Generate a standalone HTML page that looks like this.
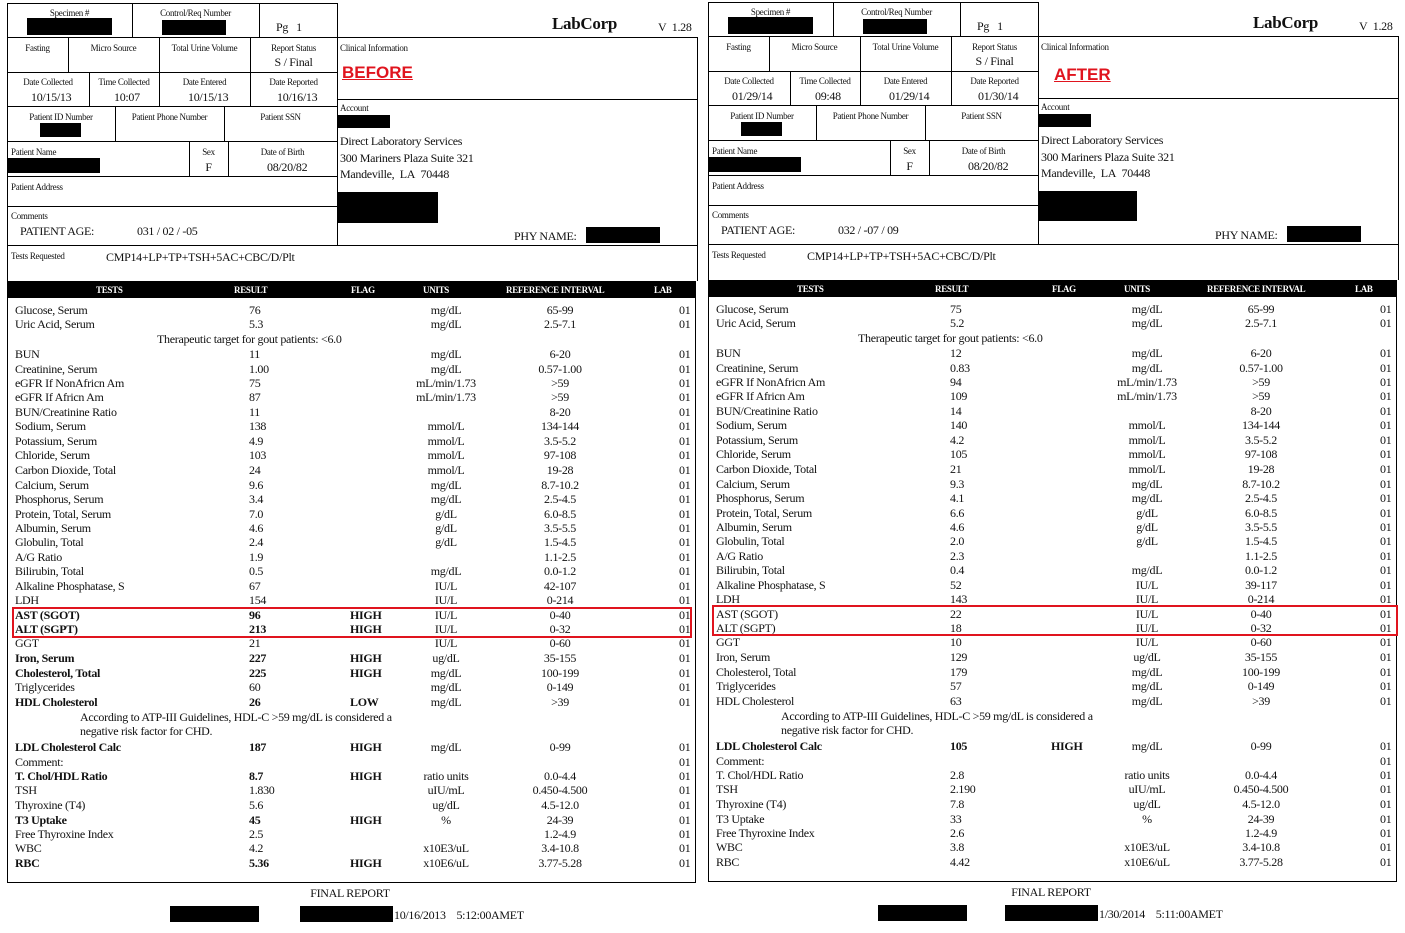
<!DOCTYPE html>
<html><head><meta charset="utf-8"><style>
*{margin:0;padding:0;box-sizing:border-box}
body{width:1405px;height:933px;background:#fff;position:relative;overflow:hidden;font-family:"Liberation Serif",serif;color:#111}
.p{position:absolute;top:0;left:0;width:702px;height:933px}
.h{position:absolute;height:1px;background:#000}
.v{position:absolute;width:1px;background:#000}
.k{position:absolute;background:#000}
.t{position:absolute;white-space:nowrap;font-size:12px;line-height:14px;letter-spacing:-0.3px}
.s{position:absolute;white-space:nowrap;font-size:9px;line-height:11px;letter-spacing:-0.3px}
.c{text-align:center}
.r{position:absolute;left:0;width:700px;height:14px;font-size:12px;line-height:14px;letter-spacing:-0.3px}
.r i{position:absolute;font-style:normal;white-space:nowrap;top:0}
.a{left:15px}.b{left:249px}.f{left:350px}.u{left:400px;width:92px;text-align:center}.g{left:505px;width:110px;text-align:center}.l{left:679px}
.B{font-weight:bold}
.bar{position:absolute;left:7px;top:281px;width:689px;height:17px;background:#000;color:#fff;font-size:9px;font-weight:bold;line-height:17px;letter-spacing:-0.3px}
.bar span{position:absolute;top:1px}
.red{position:absolute;border:2px solid #e0141e}
.big{position:absolute;font-family:"Liberation Sans",sans-serif;font-weight:bold;color:#e0141e;font-size:17px;text-decoration:underline;line-height:20px}
</style></head><body>

<!-- LEFT PANEL -->
<div class="p">
<div class="h" style="left:7px;top:3px;width:330px"></div>
<div class="h" style="left:7px;top:37px;width:691px"></div>
<div class="h" style="left:7px;top:72px;width:330px"></div>
<div class="h" style="left:337px;top:99px;width:361px"></div>
<div class="h" style="left:7px;top:106px;width:330px"></div>
<div class="h" style="left:7px;top:141px;width:330px"></div>
<div class="h" style="left:7px;top:176px;width:330px"></div>
<div class="h" style="left:7px;top:206px;width:330px"></div>
<div class="h" style="left:7px;top:245px;width:691px"></div>
<div class="h" style="left:7px;top:882px;width:689px"></div>
<div class="v" style="left:7px;top:3px;height:880px"></div>
<div class="v" style="left:337px;top:3px;height:242px"></div>
<div class="v" style="left:697px;top:37px;height:244px"></div>
<div class="v" style="left:695px;top:281px;height:602px"></div>
<div class="v" style="left:132px;top:3px;height:34px"></div>
<div class="v" style="left:259px;top:3px;height:34px"></div>
<div class="v" style="left:68px;top:37px;height:35px"></div>
<div class="v" style="left:159px;top:37px;height:35px"></div>
<div class="v" style="left:250px;top:37px;height:35px"></div>
<div class="v" style="left:89px;top:72px;height:34px"></div>
<div class="v" style="left:159px;top:72px;height:34px"></div>
<div class="v" style="left:250px;top:72px;height:34px"></div>
<div class="v" style="left:115px;top:106px;height:35px"></div>
<div class="v" style="left:224px;top:106px;height:35px"></div>
<div class="v" style="left:189px;top:141px;height:35px"></div>
<div class="v" style="left:228px;top:141px;height:35px"></div>

<div class="s c" style="left:7px;top:8px;width:125px">Specimen #</div>
<div class="k" style="left:27px;top:18px;width:85px;height:17px"></div>
<div class="s c" style="left:132px;top:8px;width:127px">Control/Req Number</div>
<div class="k" style="left:162px;top:20px;width:64px;height:15px"></div>
<div class="t" style="left:276px;top:20px">Pg&nbsp;&nbsp; 1</div>
<div class="t" style="left:552px;top:14px;font-size:17px;line-height:20px;font-weight:bold">LabCorp</div>
<div class="t" style="left:658px;top:20px">V&nbsp; 1.28</div>

<div class="s c" style="left:7px;top:43px;width:61px">Fasting</div>
<div class="s c" style="left:68px;top:43px;width:91px">Micro Source</div>
<div class="s c" style="left:159px;top:43px;width:91px">Total Urine Volume</div>
<div class="s c" style="left:250px;top:43px;width:87px">Report Status</div>
<div class="t c" style="left:250px;top:55px;width:87px">S / Final</div>
<div class="s" style="left:340px;top:43px">Clinical Information</div>
<div class="big" style="left:342px;top:63px">BEFORE</div>

<div class="s c" style="left:7px;top:77px;width:82px">Date Collected</div>
<div class="s c" style="left:89px;top:77px;width:70px">Time Collected</div>
<div class="s c" style="left:159px;top:77px;width:91px">Date Entered</div>
<div class="s c" style="left:250px;top:77px;width:87px">Date Reported</div>
<div class="t" style="left:31px;top:90px">10/15/13</div>
<div class="t" style="left:114px;top:90px">10:07</div>
<div class="t" style="left:188px;top:90px">10/15/13</div>
<div class="t" style="left:277px;top:90px">10/16/13</div>

<div class="s c" style="left:7px;top:112px;width:108px">Patient ID Number</div>
<div class="k" style="left:40px;top:123px;width:41px;height:14px"></div>
<div class="s c" style="left:115px;top:112px;width:109px">Patient Phone Number</div>
<div class="s c" style="left:224px;top:112px;width:113px">Patient SSN</div>
<div class="s" style="left:340px;top:103px">Account</div>
<div class="k" style="left:338px;top:115px;width:52px;height:13px"></div>
<div class="t" style="left:340px;top:134px">Direct Laboratory Services</div>
<div class="t" style="left:340px;top:151px">300 Mariners Plaza Suite 321</div>
<div class="t" style="left:340px;top:167px">Mandeville,&nbsp; LA&nbsp; 70448</div>
<div class="k" style="left:338px;top:192px;width:100px;height:31px"></div>

<div class="s" style="left:11px;top:147px">Patient Name</div>
<div class="k" style="left:7px;top:158px;width:93px;height:15px"></div>
<div class="s c" style="left:189px;top:147px;width:39px">Sex</div>
<div class="t c" style="left:189px;top:160px;width:39px">F</div>
<div class="s c" style="left:228px;top:147px;width:109px">Date of Birth</div>
<div class="t" style="left:267px;top:160px">08/20/82</div>
<div class="s" style="left:11px;top:182px">Patient Address</div>
<div class="s" style="left:11px;top:211px">Comments</div>
<div class="t" style="left:20px;top:224px">PATIENT AGE:</div>
<div class="t" style="left:137px;top:224px">031 / 02 / -05</div>
<div class="t" style="left:514px;top:229px">PHY NAME:</div>
<div class="k" style="left:586px;top:227px;width:74px;height:16px"></div>
<div class="s" style="left:11px;top:251px">Tests Requested</div>
<div class="t" style="left:106px;top:250px">CMP14+LP+TP+TSH+5AC+CBC/D/Plt</div>

<div class="bar"><span style="left:89px">TESTS</span><span style="left:227px">RESULT</span><span style="left:344px">FLAG</span><span style="left:416px">UNITS</span><span style="left:499px">REFERENCE INTERVAL</span><span style="left:647px">LAB</span></div>

<div class="r" style="top:303px"><i class="a">Glucose, Serum</i><i class="b">76</i><i class="u">mg/dL</i><i class="g">65-99</i><i class="l">01</i></div>
<div class="r" style="top:317px"><i class="a">Uric Acid, Serum</i><i class="b">5.3</i><i class="u">mg/dL</i><i class="g">2.5-7.1</i><i class="l">01</i></div>
<div class="r" style="top:332px"><i style="left:157px">Therapeutic target for gout patients: &lt;6.0</i></div>
<div class="r" style="top:347px"><i class="a">BUN</i><i class="b">11</i><i class="u">mg/dL</i><i class="g">6-20</i><i class="l">01</i></div>
<div class="r" style="top:362px"><i class="a">Creatinine, Serum</i><i class="b">1.00</i><i class="u">mg/dL</i><i class="g">0.57-1.00</i><i class="l">01</i></div>
<div class="r" style="top:376px"><i class="a">eGFR If NonAfricn Am</i><i class="b">75</i><i class="u">mL/min/1.73</i><i class="g">&gt;59</i><i class="l">01</i></div>
<div class="r" style="top:390px"><i class="a">eGFR If Africn Am</i><i class="b">87</i><i class="u">mL/min/1.73</i><i class="g">&gt;59</i><i class="l">01</i></div>
<div class="r" style="top:405px"><i class="a">BUN/Creatinine Ratio</i><i class="b">11</i><i class="g">8-20</i><i class="l">01</i></div>
<div class="r" style="top:419px"><i class="a">Sodium, Serum</i><i class="b">138</i><i class="u">mmol/L</i><i class="g">134-144</i><i class="l">01</i></div>
<div class="r" style="top:434px"><i class="a">Potassium, Serum</i><i class="b">4.9</i><i class="u">mmol/L</i><i class="g">3.5-5.2</i><i class="l">01</i></div>
<div class="r" style="top:448px"><i class="a">Chloride, Serum</i><i class="b">103</i><i class="u">mmol/L</i><i class="g">97-108</i><i class="l">01</i></div>
<div class="r" style="top:463px"><i class="a">Carbon Dioxide, Total</i><i class="b">24</i><i class="u">mmol/L</i><i class="g">19-28</i><i class="l">01</i></div>
<div class="r" style="top:478px"><i class="a">Calcium, Serum</i><i class="b">9.6</i><i class="u">mg/dL</i><i class="g">8.7-10.2</i><i class="l">01</i></div>
<div class="r" style="top:492px"><i class="a">Phosphorus, Serum</i><i class="b">3.4</i><i class="u">mg/dL</i><i class="g">2.5-4.5</i><i class="l">01</i></div>
<div class="r" style="top:507px"><i class="a">Protein, Total, Serum</i><i class="b">7.0</i><i class="u">g/dL</i><i class="g">6.0-8.5</i><i class="l">01</i></div>
<div class="r" style="top:521px"><i class="a">Albumin, Serum</i><i class="b">4.6</i><i class="u">g/dL</i><i class="g">3.5-5.5</i><i class="l">01</i></div>
<div class="r" style="top:535px"><i class="a">Globulin, Total</i><i class="b">2.4</i><i class="u">g/dL</i><i class="g">1.5-4.5</i><i class="l">01</i></div>
<div class="r" style="top:550px"><i class="a">A/G Ratio</i><i class="b">1.9</i><i class="g">1.1-2.5</i><i class="l">01</i></div>
<div class="r" style="top:564px"><i class="a">Bilirubin, Total</i><i class="b">0.5</i><i class="u">mg/dL</i><i class="g">0.0-1.2</i><i class="l">01</i></div>
<div class="r" style="top:579px"><i class="a">Alkaline Phosphatase, S</i><i class="b">67</i><i class="u">IU/L</i><i class="g">42-107</i><i class="l">01</i></div>
<div class="r" style="top:593px"><i class="a">LDH</i><i class="b">154</i><i class="u">IU/L</i><i class="g">0-214</i><i class="l">01</i></div>
<div class="r" style="top:608px"><i class="a B">AST (SGOT)</i><i class="b B">96</i><i class="f B">HIGH</i><i class="u">IU/L</i><i class="g">0-40</i><i class="l">01</i></div>
<div class="r" style="top:622px"><i class="a B">ALT (SGPT)</i><i class="b B">213</i><i class="f B">HIGH</i><i class="u">IU/L</i><i class="g">0-32</i><i class="l">01</i></div>
<div class="r" style="top:636px"><i class="a">GGT</i><i class="b">21</i><i class="u">IU/L</i><i class="g">0-60</i><i class="l">01</i></div>
<div class="r" style="top:651px"><i class="a B">Iron, Serum</i><i class="b B">227</i><i class="f B">HIGH</i><i class="u">ug/dL</i><i class="g">35-155</i><i class="l">01</i></div>
<div class="r" style="top:666px"><i class="a B">Cholesterol, Total</i><i class="b B">225</i><i class="f B">HIGH</i><i class="u">mg/dL</i><i class="g">100-199</i><i class="l">01</i></div>
<div class="r" style="top:680px"><i class="a">Triglycerides</i><i class="b">60</i><i class="u">mg/dL</i><i class="g">0-149</i><i class="l">01</i></div>
<div class="r" style="top:695px"><i class="a B">HDL Cholesterol</i><i class="b B">26</i><i class="f B">LOW</i><i class="u">mg/dL</i><i class="g">&gt;39</i><i class="l">01</i></div>
<div class="r" style="top:710px"><i style="left:80px">According to ATP-III Guidelines, HDL-C &gt;59 mg/dL is considered a</i></div>
<div class="r" style="top:724px"><i style="left:80px">negative risk factor for CHD.</i></div>
<div class="r" style="top:740px"><i class="a B">LDL Cholesterol Calc</i><i class="b B">187</i><i class="f B">HIGH</i><i class="u">mg/dL</i><i class="g">0-99</i><i class="l">01</i></div>
<div class="r" style="top:755px"><i class="a">Comment:</i><i class="l">01</i></div>
<div class="r" style="top:769px"><i class="a B">T. Chol/HDL Ratio</i><i class="b B">8.7</i><i class="f B">HIGH</i><i class="u">ratio units</i><i class="g">0.0-4.4</i><i class="l">01</i></div>
<div class="r" style="top:783px"><i class="a">TSH</i><i class="b">1.830</i><i class="u">uIU/mL</i><i class="g">0.450-4.500</i><i class="l">01</i></div>
<div class="r" style="top:798px"><i class="a">Thyroxine (T4)</i><i class="b">5.6</i><i class="u">ug/dL</i><i class="g">4.5-12.0</i><i class="l">01</i></div>
<div class="r" style="top:813px"><i class="a B">T3 Uptake</i><i class="b B">45</i><i class="f B">HIGH</i><i class="u">%</i><i class="g">24-39</i><i class="l">01</i></div>
<div class="r" style="top:827px"><i class="a">Free Thyroxine Index</i><i class="b">2.5</i><i class="g">1.2-4.9</i><i class="l">01</i></div>
<div class="r" style="top:841px"><i class="a">WBC</i><i class="b">4.2</i><i class="u">x10E3/uL</i><i class="g">3.4-10.8</i><i class="l">01</i></div>
<div class="r" style="top:856px"><i class="a B">RBC</i><i class="b B">5.36</i><i class="f B">HIGH</i><i class="u">x10E6/uL</i><i class="g">3.77-5.28</i><i class="l">01</i></div>

<div class="red" style="left:12px;top:607px;width:680px;height:31px"></div>
<div class="t c" style="left:250px;top:886px;width:200px">FINAL REPORT</div>
<div class="k" style="left:170px;top:906px;width:89px;height:16px"></div>
<div class="k" style="left:300px;top:906px;width:93px;height:16px"></div>
<div class="t" style="left:394px;top:908px">10/16/2013&nbsp;&nbsp;&nbsp; 5:12:00AMET</div>
</div>

<!-- RIGHT PANEL -->
<div class="p" style="left:701px;top:-1px">
<div class="h" style="left:7px;top:3px;width:330px"></div>
<div class="h" style="left:7px;top:37px;width:691px"></div>
<div class="h" style="left:7px;top:72px;width:330px"></div>
<div class="h" style="left:337px;top:99px;width:361px"></div>
<div class="h" style="left:7px;top:106px;width:330px"></div>
<div class="h" style="left:7px;top:141px;width:330px"></div>
<div class="h" style="left:7px;top:176px;width:330px"></div>
<div class="h" style="left:7px;top:206px;width:330px"></div>
<div class="h" style="left:7px;top:245px;width:691px"></div>
<div class="h" style="left:7px;top:882px;width:689px"></div>
<div class="v" style="left:7px;top:3px;height:880px"></div>
<div class="v" style="left:337px;top:3px;height:242px"></div>
<div class="v" style="left:697px;top:37px;height:244px"></div>
<div class="v" style="left:695px;top:281px;height:602px"></div>
<div class="v" style="left:132px;top:3px;height:34px"></div>
<div class="v" style="left:259px;top:3px;height:34px"></div>
<div class="v" style="left:68px;top:37px;height:35px"></div>
<div class="v" style="left:159px;top:37px;height:35px"></div>
<div class="v" style="left:250px;top:37px;height:35px"></div>
<div class="v" style="left:89px;top:72px;height:34px"></div>
<div class="v" style="left:159px;top:72px;height:34px"></div>
<div class="v" style="left:250px;top:72px;height:34px"></div>
<div class="v" style="left:115px;top:106px;height:35px"></div>
<div class="v" style="left:224px;top:106px;height:35px"></div>
<div class="v" style="left:189px;top:141px;height:35px"></div>
<div class="v" style="left:228px;top:141px;height:35px"></div>

<div class="s c" style="left:7px;top:8px;width:125px">Specimen #</div>
<div class="k" style="left:27px;top:18px;width:85px;height:17px"></div>
<div class="s c" style="left:132px;top:8px;width:127px">Control/Req Number</div>
<div class="k" style="left:162px;top:20px;width:64px;height:15px"></div>
<div class="t" style="left:276px;top:20px">Pg&nbsp;&nbsp; 1</div>
<div class="t" style="left:552px;top:14px;font-size:17px;line-height:20px;font-weight:bold">LabCorp</div>
<div class="t" style="left:658px;top:20px">V&nbsp; 1.28</div>

<div class="s c" style="left:7px;top:43px;width:61px">Fasting</div>
<div class="s c" style="left:68px;top:43px;width:91px">Micro Source</div>
<div class="s c" style="left:159px;top:43px;width:91px">Total Urine Volume</div>
<div class="s c" style="left:250px;top:43px;width:87px">Report Status</div>
<div class="t c" style="left:250px;top:55px;width:87px">S / Final</div>
<div class="s" style="left:340px;top:43px">Clinical Information</div>
<div class="big" style="left:353px;top:66px">AFTER</div>

<div class="s c" style="left:7px;top:77px;width:82px">Date Collected</div>
<div class="s c" style="left:89px;top:77px;width:70px">Time Collected</div>
<div class="s c" style="left:159px;top:77px;width:91px">Date Entered</div>
<div class="s c" style="left:250px;top:77px;width:87px">Date Reported</div>
<div class="t" style="left:31px;top:90px">01/29/14</div>
<div class="t" style="left:114px;top:90px">09:48</div>
<div class="t" style="left:188px;top:90px">01/29/14</div>
<div class="t" style="left:277px;top:90px">01/30/14</div>

<div class="s c" style="left:7px;top:112px;width:108px">Patient ID Number</div>
<div class="k" style="left:40px;top:123px;width:41px;height:14px"></div>
<div class="s c" style="left:115px;top:112px;width:109px">Patient Phone Number</div>
<div class="s c" style="left:224px;top:112px;width:113px">Patient SSN</div>
<div class="s" style="left:340px;top:103px">Account</div>
<div class="k" style="left:338px;top:115px;width:52px;height:13px"></div>
<div class="t" style="left:340px;top:134px">Direct Laboratory Services</div>
<div class="t" style="left:340px;top:151px">300 Mariners Plaza Suite 321</div>
<div class="t" style="left:340px;top:167px">Mandeville,&nbsp; LA&nbsp; 70448</div>
<div class="k" style="left:338px;top:192px;width:98px;height:30px"></div>

<div class="s" style="left:11px;top:147px">Patient Name</div>
<div class="k" style="left:7px;top:158px;width:93px;height:15px"></div>
<div class="s c" style="left:189px;top:147px;width:39px">Sex</div>
<div class="t c" style="left:189px;top:160px;width:39px">F</div>
<div class="s c" style="left:228px;top:147px;width:109px">Date of Birth</div>
<div class="t" style="left:267px;top:160px">08/20/82</div>
<div class="s" style="left:11px;top:182px">Patient Address</div>
<div class="s" style="left:11px;top:211px">Comments</div>
<div class="t" style="left:20px;top:224px">PATIENT AGE:</div>
<div class="t" style="left:137px;top:224px">032 / -07 / 09</div>
<div class="t" style="left:514px;top:229px">PHY NAME:</div>
<div class="k" style="left:586px;top:227px;width:74px;height:16px"></div>
<div class="s" style="left:11px;top:251px">Tests Requested</div>
<div class="t" style="left:106px;top:250px">CMP14+LP+TP+TSH+5AC+CBC/D/Plt</div>

<div class="bar"><span style="left:89px">TESTS</span><span style="left:227px">RESULT</span><span style="left:344px">FLAG</span><span style="left:416px">UNITS</span><span style="left:499px">REFERENCE INTERVAL</span><span style="left:647px">LAB</span></div>

<div class="r" style="top:303px"><i class="a">Glucose, Serum</i><i class="b">75</i><i class="u">mg/dL</i><i class="g">65-99</i><i class="l">01</i></div>
<div class="r" style="top:317px"><i class="a">Uric Acid, Serum</i><i class="b">5.2</i><i class="u">mg/dL</i><i class="g">2.5-7.1</i><i class="l">01</i></div>
<div class="r" style="top:332px"><i style="left:157px">Therapeutic target for gout patients: &lt;6.0</i></div>
<div class="r" style="top:347px"><i class="a">BUN</i><i class="b">12</i><i class="u">mg/dL</i><i class="g">6-20</i><i class="l">01</i></div>
<div class="r" style="top:362px"><i class="a">Creatinine, Serum</i><i class="b">0.83</i><i class="u">mg/dL</i><i class="g">0.57-1.00</i><i class="l">01</i></div>
<div class="r" style="top:376px"><i class="a">eGFR If NonAfricn Am</i><i class="b">94</i><i class="u">mL/min/1.73</i><i class="g">&gt;59</i><i class="l">01</i></div>
<div class="r" style="top:390px"><i class="a">eGFR If Africn Am</i><i class="b">109</i><i class="u">mL/min/1.73</i><i class="g">&gt;59</i><i class="l">01</i></div>
<div class="r" style="top:405px"><i class="a">BUN/Creatinine Ratio</i><i class="b">14</i><i class="g">8-20</i><i class="l">01</i></div>
<div class="r" style="top:419px"><i class="a">Sodium, Serum</i><i class="b">140</i><i class="u">mmol/L</i><i class="g">134-144</i><i class="l">01</i></div>
<div class="r" style="top:434px"><i class="a">Potassium, Serum</i><i class="b">4.2</i><i class="u">mmol/L</i><i class="g">3.5-5.2</i><i class="l">01</i></div>
<div class="r" style="top:448px"><i class="a">Chloride, Serum</i><i class="b">105</i><i class="u">mmol/L</i><i class="g">97-108</i><i class="l">01</i></div>
<div class="r" style="top:463px"><i class="a">Carbon Dioxide, Total</i><i class="b">21</i><i class="u">mmol/L</i><i class="g">19-28</i><i class="l">01</i></div>
<div class="r" style="top:478px"><i class="a">Calcium, Serum</i><i class="b">9.3</i><i class="u">mg/dL</i><i class="g">8.7-10.2</i><i class="l">01</i></div>
<div class="r" style="top:492px"><i class="a">Phosphorus, Serum</i><i class="b">4.1</i><i class="u">mg/dL</i><i class="g">2.5-4.5</i><i class="l">01</i></div>
<div class="r" style="top:507px"><i class="a">Protein, Total, Serum</i><i class="b">6.6</i><i class="u">g/dL</i><i class="g">6.0-8.5</i><i class="l">01</i></div>
<div class="r" style="top:521px"><i class="a">Albumin, Serum</i><i class="b">4.6</i><i class="u">g/dL</i><i class="g">3.5-5.5</i><i class="l">01</i></div>
<div class="r" style="top:535px"><i class="a">Globulin, Total</i><i class="b">2.0</i><i class="u">g/dL</i><i class="g">1.5-4.5</i><i class="l">01</i></div>
<div class="r" style="top:550px"><i class="a">A/G Ratio</i><i class="b">2.3</i><i class="g">1.1-2.5</i><i class="l">01</i></div>
<div class="r" style="top:564px"><i class="a">Bilirubin, Total</i><i class="b">0.4</i><i class="u">mg/dL</i><i class="g">0.0-1.2</i><i class="l">01</i></div>
<div class="r" style="top:579px"><i class="a">Alkaline Phosphatase, S</i><i class="b">52</i><i class="u">IU/L</i><i class="g">39-117</i><i class="l">01</i></div>
<div class="r" style="top:593px"><i class="a">LDH</i><i class="b">143</i><i class="u">IU/L</i><i class="g">0-214</i><i class="l">01</i></div>
<div class="r" style="top:608px"><i class="a">AST (SGOT)</i><i class="b">22</i><i class="u">IU/L</i><i class="g">0-40</i><i class="l">01</i></div>
<div class="r" style="top:622px"><i class="a">ALT (SGPT)</i><i class="b">18</i><i class="u">IU/L</i><i class="g">0-32</i><i class="l">01</i></div>
<div class="r" style="top:636px"><i class="a">GGT</i><i class="b">10</i><i class="u">IU/L</i><i class="g">0-60</i><i class="l">01</i></div>
<div class="r" style="top:651px"><i class="a">Iron, Serum</i><i class="b">129</i><i class="u">ug/dL</i><i class="g">35-155</i><i class="l">01</i></div>
<div class="r" style="top:666px"><i class="a">Cholesterol, Total</i><i class="b">179</i><i class="u">mg/dL</i><i class="g">100-199</i><i class="l">01</i></div>
<div class="r" style="top:680px"><i class="a">Triglycerides</i><i class="b">57</i><i class="u">mg/dL</i><i class="g">0-149</i><i class="l">01</i></div>
<div class="r" style="top:695px"><i class="a">HDL Cholesterol</i><i class="b">63</i><i class="u">mg/dL</i><i class="g">&gt;39</i><i class="l">01</i></div>
<div class="r" style="top:710px"><i style="left:80px">According to ATP-III Guidelines, HDL-C &gt;59 mg/dL is considered a</i></div>
<div class="r" style="top:724px"><i style="left:80px">negative risk factor for CHD.</i></div>
<div class="r" style="top:740px"><i class="a B">LDL Cholesterol Calc</i><i class="b B">105</i><i class="f B">HIGH</i><i class="u">mg/dL</i><i class="g">0-99</i><i class="l">01</i></div>
<div class="r" style="top:755px"><i class="a">Comment:</i><i class="l">01</i></div>
<div class="r" style="top:769px"><i class="a">T. Chol/HDL Ratio</i><i class="b">2.8</i><i class="u">ratio units</i><i class="g">0.0-4.4</i><i class="l">01</i></div>
<div class="r" style="top:783px"><i class="a">TSH</i><i class="b">2.190</i><i class="u">uIU/mL</i><i class="g">0.450-4.500</i><i class="l">01</i></div>
<div class="r" style="top:798px"><i class="a">Thyroxine (T4)</i><i class="b">7.8</i><i class="u">ug/dL</i><i class="g">4.5-12.0</i><i class="l">01</i></div>
<div class="r" style="top:813px"><i class="a">T3 Uptake</i><i class="b">33</i><i class="u">%</i><i class="g">24-39</i><i class="l">01</i></div>
<div class="r" style="top:827px"><i class="a">Free Thyroxine Index</i><i class="b">2.6</i><i class="g">1.2-4.9</i><i class="l">01</i></div>
<div class="r" style="top:841px"><i class="a">WBC</i><i class="b">3.8</i><i class="u">x10E3/uL</i><i class="g">3.4-10.8</i><i class="l">01</i></div>
<div class="r" style="top:856px"><i class="a">RBC</i><i class="b">4.42</i><i class="u">x10E6/uL</i><i class="g">3.77-5.28</i><i class="l">01</i></div>

<div class="red" style="left:11px;top:606px;width:686px;height:31px"></div>
<div class="t c" style="left:250px;top:886px;width:200px">FINAL REPORT</div>
<div class="k" style="left:177px;top:906px;width:89px;height:16px"></div>
<div class="k" style="left:304px;top:906px;width:93px;height:16px"></div>
<div class="t" style="left:398px;top:908px">1/30/2014&nbsp;&nbsp;&nbsp; 5:11:00AMET</div>
</div>
</body></html>
